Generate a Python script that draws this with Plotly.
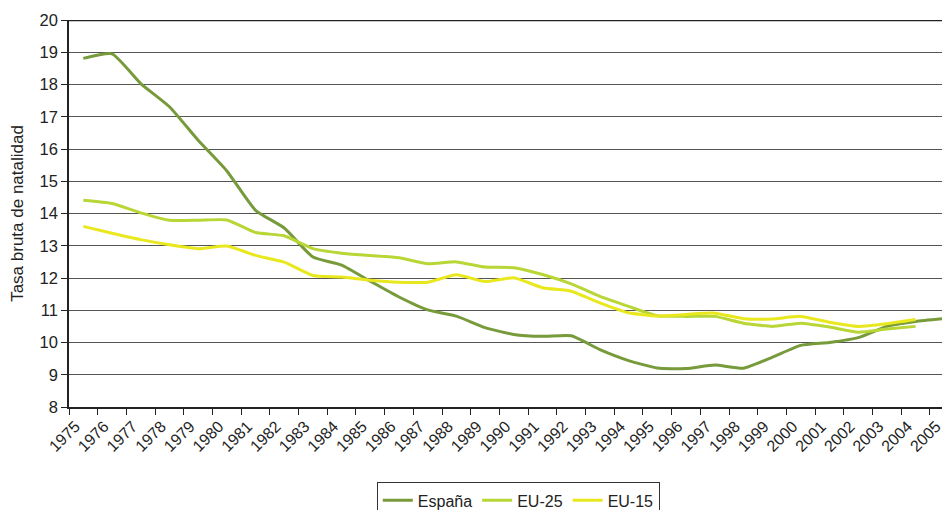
import plotly.graph_objects as go

years = [str(y) for y in range(1975, 2006)]

espana = [18.81, 18.95, 18.03, 17.31, 16.27, 15.32, 14.10, 13.55, 12.65, 12.40,
          11.90, 11.41, 11.01, 10.82, 10.46, 10.25, 10.19, 10.21, 9.78, 9.44,
          9.21, 9.19, 9.30, 9.20, 9.54, 9.91, 10.00, 10.15, 10.50, 10.65, 10.74]

eu25 = [14.41, 14.31, 14.02, 13.79, 13.79, 13.80, 13.41, 13.31, 12.91, 12.77,
        12.70, 12.63, 12.44, 12.50, 12.34, 12.32, 12.11, 11.82, 11.43, 11.12,
        10.83, 10.81, 10.81, 10.60, 10.50, 10.60, 10.48, 10.32, 10.42, 10.50]

eu15 = [13.60, 13.39, 13.19, 13.03, 12.91, 12.99, 12.70, 12.49, 12.08, 12.03,
        11.93, 11.87, 11.87, 12.10, 11.89, 12.01, 11.70, 11.59, 11.23, 10.92,
        10.82, 10.87, 10.91, 10.74, 10.73, 10.81, 10.63, 10.50, 10.58, 10.71]

series_names = ["España", "EU-25", "EU-15"]
series_colors = ["#779A3A", "#B8D636", "#E9E81E"]
series_values = [espana, eu25, eu15]

fig = go.Figure()
for name, color, vals in zip(series_names, series_colors, series_values):
    fig.add_trace(go.Scatter(
        x=years[:len(vals)], y=vals, name=name, mode="lines",
        line=dict(color=color, width=3, shape="spline", smoothing=0.5),
    ))

fig.update_layout(
    width=942, height=502,
    margin=dict(l=61, r=0, t=12, b=103, autoexpand=False),
    paper_bgcolor="white", plot_bgcolor="white",
    font=dict(family="Liberation Sans, Arial, sans-serif", size=16, color="#222"),
    showlegend=True,
    legend=dict(
        orientation="h", x=0.51, xanchor="center", y=-0.195, yanchor="top",
        bordercolor="#333", borderwidth=1, font=dict(size=16),
        itemwidth=30, tracegroupgap=0,
    ),
)

fig.update_xaxes(
    type="category", categoryorder="array", categoryarray=years,
    range=[-0.5, 30.2], tickangle=-45, tickson="boundaries",
    ticks="outside", ticklen=6, tickcolor="#222", tickwidth=1,
    ticklabelshift=-8, ticklabelstandoff=2,
    showgrid=False, showline=True, linecolor="#222", linewidth=1.5,
    tickfont=dict(size=16), automargin=False,
)
fig.update_yaxes(
    range=[8, 20], dtick=1, tick0=8,
    ticks="outside", ticklen=6, tickcolor="#222",
    showgrid=True, gridcolor="#555", gridwidth=1,
    showline=True, linecolor="#222", linewidth=1.5,
    tickfont=dict(size=16.5), automargin=False,
    title=dict(text="Tasa bruta de natalidad", font=dict(size=17), standoff=14),
)

fig.add_shape(type="line", xref="paper", yref="y", x0=0, x1=1, y0=20, y1=20,
              line=dict(color="#222", width=2.5))

fig.write_html("out.html")
